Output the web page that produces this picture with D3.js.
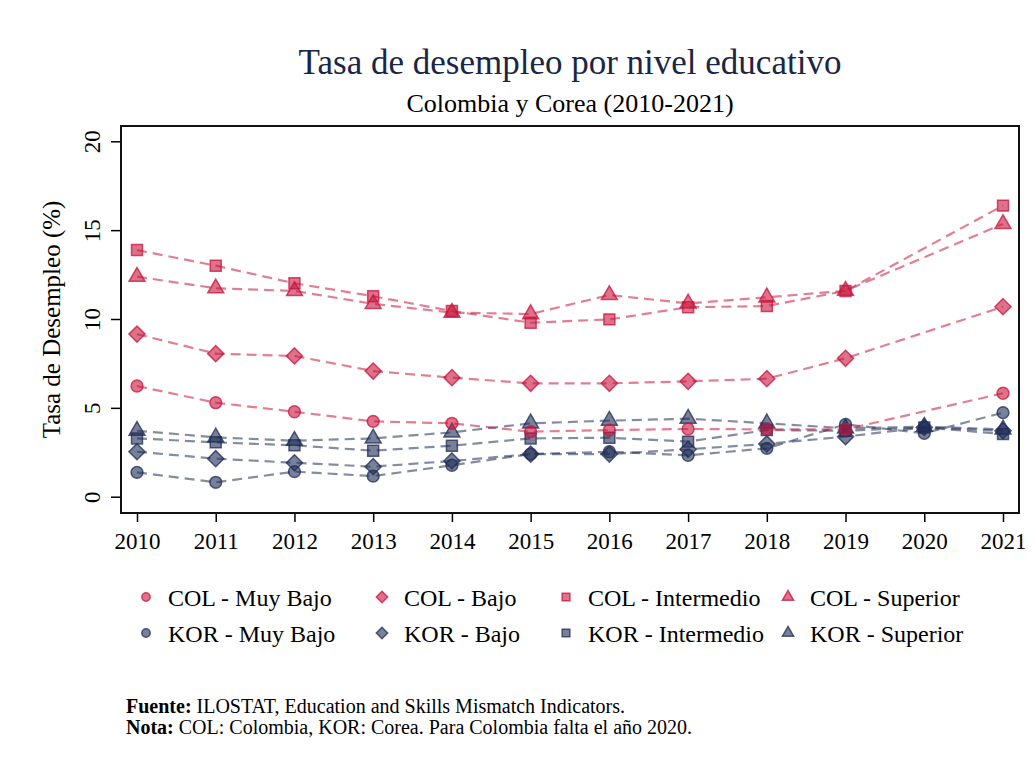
<!DOCTYPE html>
<meta charset="utf-8">
<style>
    body { margin: 0; background: #fff; }
    svg text { font-family: "Liberation Serif", "DejaVu Serif", serif; }
</style>
<svg width="1034" height="762"></svg>
<script src="https://cdn.jsdelivr.net/npm/d3@7"></script>
<script>

    // data (2020 missing for Colombia)
    var years = [2010, 2011, 2012, 2013, 2014, 2015, 2016, 2017, 2018, 2019, 2020, 2021];
    var yTicks = [0, 5, 10, 15, 20];

    var colMuyBajo = [6.23, 5.29, 4.78, 4.24, 4.13, 3.66, 3.75, 3.81, 3.79, 3.79, null, 5.82];
    var colBajo = [9.15, 8.05, 7.92, 7.07, 6.70, 6.38, 6.38, 6.49, 6.64, 7.79, null, 10.69];
    var colIntermedio = [13.88, 13.0, 12.01, 11.28, 10.45, 9.79, 9.98, 10.66, 10.73, 11.58, null, 16.38];
    var colSuperior = [12.38, 11.73, 11.58, 10.85, 10.36, 10.28, 11.35, 10.88, 11.22, 11.59, null, 15.35];

    var korMuyBajo = [1.37, 0.81, 1.41, 1.16, 1.77, 2.40, 2.53, 2.33, 2.72, 4.07, 3.57, 4.73];
    var korBajo = [2.53, 2.14, 1.91, 1.69, 2.01, 2.40, 2.40, 2.67, 2.97, 3.38, 3.90, 3.71];
    var korIntermedio = [3.28, 3.06, 2.89, 2.59, 2.87, 3.28, 3.32, 3.10, 3.75, 3.71, 3.90, 3.53];
    var korSuperior = [3.71, 3.34, 3.15, 3.28, 3.62, 4.13, 4.28, 4.39, 4.13, 3.85, 3.94, 3.79];

    var colColor = "#c8143c";
    var korColor = "#1f2d56";

    // diamond = square turned 45 degrees (d3's own diamond is too narrow)
    var diamond = {
        draw: function(context, size) {
            var r = Math.sqrt(size / 2);
            context.moveTo(0, -r);
            context.lineTo(r, 0);
            context.lineTo(0, r);
            context.lineTo(-r, 0);
            context.closePath();
        }
    };

    var series = [
        { name: "COL - Muy Bajo", values: colMuyBajo, color: colColor, shape: d3.symbolCircle },
        { name: "COL - Bajo", values: colBajo, color: colColor, shape: diamond },
        { name: "COL - Intermedio", values: colIntermedio, color: colColor, shape: d3.symbolSquare },
        { name: "COL - Superior", values: colSuperior, color: colColor, shape: d3.symbolTriangle },
        { name: "KOR - Muy Bajo", values: korMuyBajo, color: korColor, shape: d3.symbolCircle },
        { name: "KOR - Bajo", values: korBajo, color: korColor, shape: diamond },
        { name: "KOR - Intermedio", values: korIntermedio, color: korColor, shape: d3.symbolSquare },
        { name: "KOR - Superior", values: korSuperior, color: korColor, shape: d3.symbolTriangle }
    ];

    var svg = d3.select("svg");

    var frame = { left: 121, right: 1019, top: 126, bottom: 513 };

    var x = d3.scaleLinear()
        .domain([2010, 2021])
        .range([137, 1003]);

    var y = d3.scaleLinear()
        .domain([0, 20])
        .range([496.7, 141.3]);

    // titles
    svg.append("text")
        .attr("x", 570).attr("y", 74)
        .attr("text-anchor", "middle")
        .attr("font-size", 35)
        .attr("fill", "#1a2646")
        .text("Tasa de desempleo por nivel educativo");

    svg.append("text")
        .attr("x", 570).attr("y", 112)
        .attr("text-anchor", "middle")
        .attr("font-size", 26)
        .attr("fill", "#000")
        .text("Colombia y Corea (2010-2021)");

    // axes
    var xAxis = svg.append("g")
        .attr("transform", "translate(0," + frame.bottom + ")")
        .call(d3.axisBottom(x).tickValues(years).tickFormat(d3.format("d")).tickSize(9).tickPadding(11));

    var yAxis = svg.append("g")
        .attr("transform", "translate(" + frame.left + ",0)")
        .call(d3.axisLeft(y).tickValues(yTicks).tickSize(10).tickPadding(0));

    [xAxis, yAxis].forEach(function(a) {
        a.select(".domain").remove();
        a.selectAll(".tick line").attr("stroke", "#000").attr("stroke-width", 1.5);
        a.selectAll("text").attr("font-size", 23).attr("fill", "#000")
            .attr("font-family", "Liberation Serif, DejaVu Serif, serif");
    });

    yAxis.selectAll(".tick text")
        .attr("transform", "rotate(-90)")
        .attr("x", 0).attr("y", -21)
        .attr("dy", 0)
        .attr("text-anchor", "middle");

    svg.append("text")
        .attr("transform", "translate(60," + ((frame.top + frame.bottom) / 2) + ") rotate(-90)")
        .attr("text-anchor", "middle")
        .attr("font-size", 25)
        .attr("fill", "#000")
        .text("Tasa de Desempleo (%)");

    // frame
    svg.append("rect")
        .attr("x", frame.left).attr("y", frame.top)
        .attr("width", frame.right - frame.left)
        .attr("height", frame.bottom - frame.top)
        .attr("fill", "none")
        .attr("stroke", "#111")
        .attr("stroke-width", 2);

    var line = d3.line()
        .x(function(d) { return x(d.year); })
        .y(function(d) { return y(d.v); });

    function pts(s) {
        return years.map(function(yr, i) { return { year: yr, v: s.values[i] }; })
            .filter(function(d) { return d.v !== null; });
    }

    function symSize(shape) {
        if (shape === d3.symbolCircle) return 110;
        if (shape === diamond) return 130;
        if (shape === d3.symbolSquare) return 120;
        return 110;
    }

    // lines (KOR first, then COL on top)
    var order = series.slice(4).concat(series.slice(0, 4));

    svg.append("g").selectAll("path")
        .data(order)
        .enter().append("path")
        .attr("d", function(s) { return line(pts(s)); })
        .attr("fill", "none")
        .attr("stroke", function(s) { return s.color; })
        .attr("stroke-opacity", 0.55)
        .attr("stroke-width", 2.2)
        .attr("stroke-dasharray", "10,6");

    order.forEach(function(s) {
        svg.append("g").selectAll("path")
            .data(pts(s))
            .enter().append("path")
            .attr("transform", function(d) { return "translate(" + x(d.year) + "," + y(d.v) + ")"; })
            .attr("d", d3.symbol().type(s.shape).size(symSize(s.shape)))
            .attr("fill", s.color)
            .attr("fill-opacity", 0.6)
            .attr("stroke", s.color)
            .attr("stroke-opacity", 0.75)
            .attr("stroke-width", 1.5);
    });

    // legend
    var legX = [146, 382, 566, 788];
    var legY = [598, 634];
    series.forEach(function(s, i) {
        var lx = legX[i % 4], ly = legY[Math.floor(i / 4)];
        svg.append("path")
            .attr("transform", "translate(" + lx + "," + (ly - 1) + ")")
            .attr("d", d3.symbol().type(s.shape).size(symSize(s.shape) * 0.5))
            .attr("fill", s.color)
            .attr("fill-opacity", 0.6)
            .attr("stroke", s.color)
            .attr("stroke-opacity", 0.75)
            .attr("stroke-width", 1.5);
        svg.append("text")
            .attr("x", lx + 22).attr("y", ly + 8)
            .attr("font-size", 24)
            .attr("fill", "#000")
            .text(s.name);
    });

    // notes
    var n1 = svg.append("text").attr("x", 126).attr("y", 713).attr("font-size", 20).attr("fill", "#000");
    n1.append("tspan").attr("font-weight", "bold").text("Fuente:");
    n1.append("tspan").text(" ILOSTAT, Education and Skills Mismatch Indicators.");

    var n2 = svg.append("text").attr("x", 126).attr("y", 734).attr("font-size", 20).attr("fill", "#000");
    n2.append("tspan").attr("font-weight", "bold").text("Nota:");
    n2.append("tspan").text(" COL: Colombia, KOR: Corea. Para Colombia falta el año 2020.");

</script>
